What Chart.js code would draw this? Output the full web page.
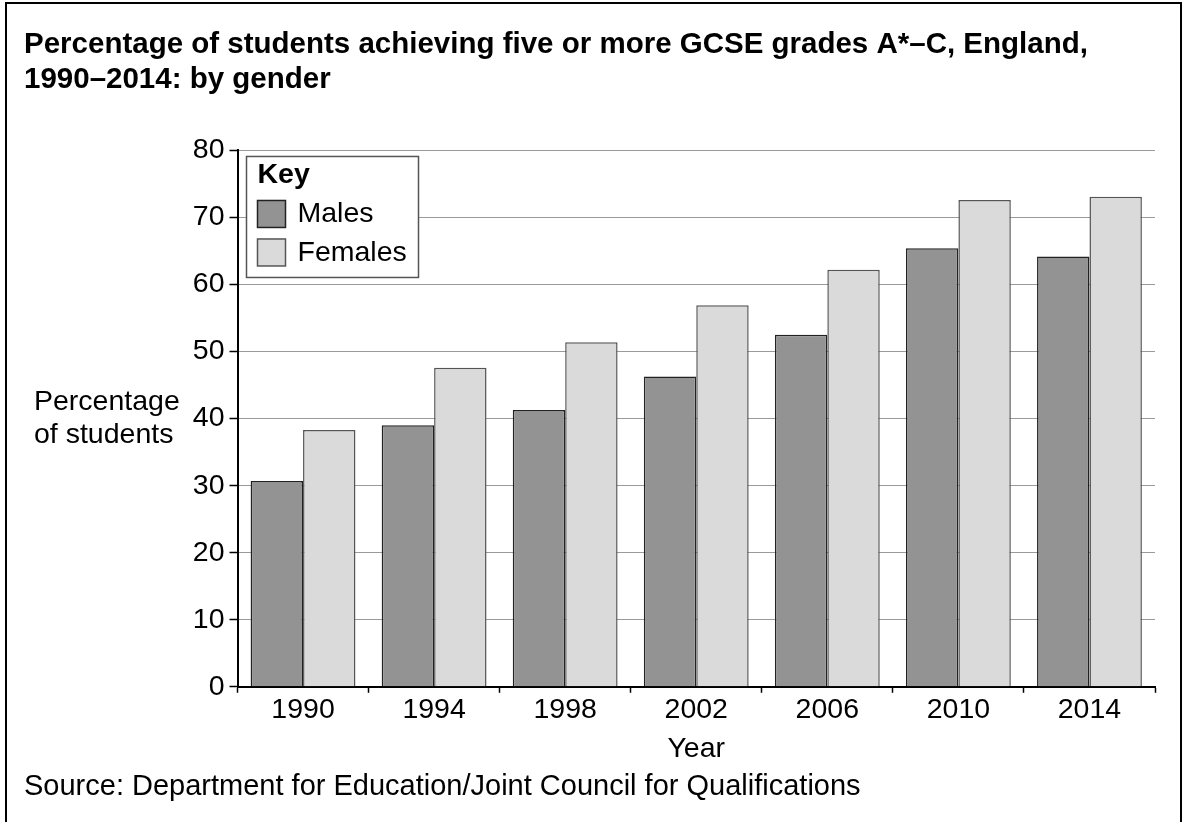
<!DOCTYPE html>
<html>
<head>
<meta charset="utf-8">
<script src="https://cdn.jsdelivr.net/npm/chart.js@4/dist/chart.umd.min.js"></script>
<style>
  body { margin: 0; background: #fff; }
  canvas { display: block; }
</style>
</head>
<body>
<canvas id="chart" width="1186" height="822"></canvas>
<script>
// data
const years = ['1990', '1994', '1998', '2002', '2006', '2010', '2014'];
const males = [30.7, 39.0, 41.3, 46.3, 52.5, 65.4, 64.2];
const females = [38.3, 47.6, 51.4, 56.9, 62.2, 72.6, 73.1];
const yTicks = [0, 10, 20, 30, 40, 50, 60, 70, 80];

const FONT = '"Liberation Sans", Arial, Helvetica, sans-serif';
const SIZE = 28.5;

// outer frame round the whole figure
const framePlugin = {
    id: 'frame',
    beforeDraw(chart) {
        const ctx = chart.ctx;
        ctx.save();
        ctx.fillStyle = '#fff';
        ctx.fillRect(0, 0, chart.width, chart.height);
        ctx.strokeStyle = '#000';
        ctx.lineWidth = 2;
        ctx.strokeRect(6, 3, 1175, 840);
        ctx.restore();
    }
};

// the "Key" box in the top-left corner of the plot
const keyPlugin = {
    id: 'keyBox',
    afterDatasetsDraw(chart) {
        const { ctx, chartArea } = chart;
        const x = chartArea.left + 9;
        const y = chartArea.top + 6;
        ctx.save();
        ctx.fillStyle = '#fff';
        ctx.strokeStyle = '#555';
        ctx.lineWidth = 1.5;
        ctx.fillRect(x, y, 172, 121);
        ctx.strokeRect(x, y, 172, 121);

        ctx.fillStyle = '#000';
        ctx.textBaseline = 'middle';
        ctx.textAlign = 'left';
        ctx.font = 'bold ' + SIZE + 'px ' + FONT;
        ctx.fillText('Key', x + 11, y + 19);

        ctx.font = SIZE + 'px ' + FONT;
        chart.data.datasets.forEach((ds, i) => {
            const sy = y + 44 + i * 38.5;
            ctx.fillStyle = ds.backgroundColor;
            ctx.strokeStyle = ds.borderColor;
            ctx.lineWidth = 1.5;
            ctx.fillRect(x + 11, sy, 28, 27);
            ctx.strokeRect(x + 11, sy, 28, 27);
            ctx.fillStyle = '#000';
            ctx.fillText(ds.label, x + 51, sy + 14);
        });
        ctx.restore();
    }
};

// horizontal y axis label to the left of the ticks
const yLabelPlugin = {
    id: 'yLabel',
    afterDraw(chart) {
        const ctx = chart.ctx;
        ctx.save();
        ctx.fillStyle = '#000';
        ctx.font = SIZE + 'px ' + FONT;
        ctx.textBaseline = 'middle';
        ctx.textAlign = 'left';
        ctx.fillText('Percentage', 34, 402);
        ctx.fillText('of students', 34, 435);
        ctx.restore();
    }
};

new Chart(document.getElementById('chart'), {
    type: 'bar',
    data: {
        labels: years,
        datasets: [
            {
                label: 'Males',
                data: males,
                backgroundColor: '#939393',
                borderColor: '#222',
                borderWidth: 1.5
            },
            {
                label: 'Females',
                data: females,
                backgroundColor: '#dadada',
                borderColor: '#555',
                borderWidth: 1.5
            }
        ]
    },
    options: {
        responsive: false,
        animation: false,
        categoryPercentage: 0.8,
        barPercentage: 1.0,
        layout: {
            padding: { left: 24, right: 31, top: 0, bottom: 0 }
        },
        plugins: {
            legend: { display: false },
            tooltip: { enabled: false },
            title: {
                display: true,
                align: 'start',
                text: ['Percentage of students achieving five or more GCSE grades A*\u2013C, England,',
                       '1990\u20132014: by gender'],
                color: '#000',
                font: { family: FONT, size: 29.5, weight: 'bold', lineHeight: 1.186 },
                padding: { top: 27, bottom: 53.5 }
            },
            subtitle: {
                display: true,
                position: 'bottom',
                align: 'start',
                text: 'Source: Department for Education/Joint Council for Qualifications',
                color: '#000',
                font: { family: FONT, size: 29, lineHeight: 1.2 },
                padding: { top: 3, bottom: 18 }
            }
        },
        scales: {
            x: {
                offset: true,
                grid: {
                    display: true,
                    offset: true,
                    drawOnChartArea: false,
                    tickLength: 6,
                    tickColor: '#000',
                    tickWidth: 1.5
                },
                border: { color: '#000', width: 2 },
                ticks: {
                    color: '#000',
                    padding: 0,
                    font: { family: FONT, size: SIZE, lineHeight: 1.2 }
                },
                title: {
                    display: true,
                    text: 'Year',
                    color: '#000',
                    font: { family: FONT, size: SIZE, lineHeight: 1.2 },
                    padding: { top: 5, bottom: 0 }
                }
            },
            y: {
                min: 0,
                max: 80,
                afterBuildTicks(scale) {
                    scale.ticks = yTicks.map(v => ({ value: v }));
                },
                afterFit(scale) {
                    scale.width = 213.5;
                },
                grid: {
                    color: '#9a9a9a',
                    lineWidth: 1,
                    tickLength: 8,
                    tickColor: '#000',
                    tickWidth: 1.5
                },
                border: { color: '#000', width: 2 },
                ticks: {
                    color: '#000',
                    padding: 5,
                    font: { family: FONT, size: SIZE, lineHeight: 1.2 }
                }
            }
        }
    },
    plugins: [framePlugin, keyPlugin, yLabelPlugin]
});
</script>
</body>
</html>
